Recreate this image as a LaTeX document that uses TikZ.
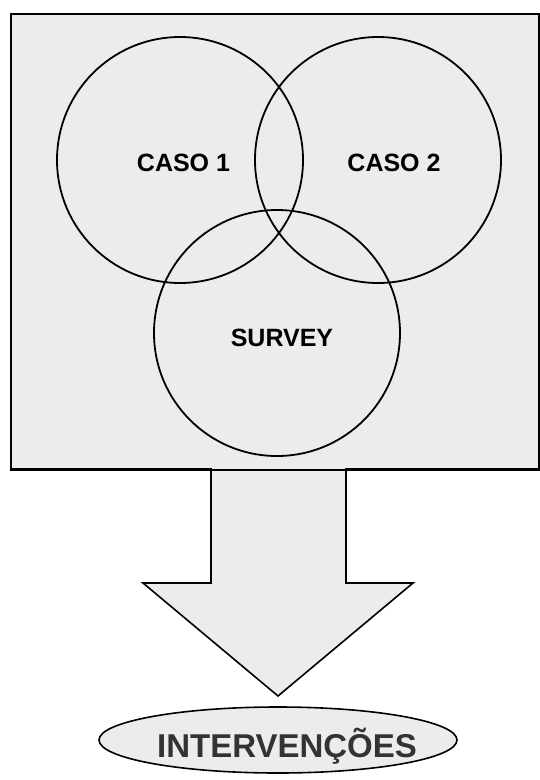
\documentclass[tikz,border=0pt]{standalone}
\usepackage{fontspec}
\setmainfont{Liberation Sans}
\usetikzlibrary{shapes.geometric}
\definecolor{halftone}{HTML}{ECECEC}
\definecolor{darktext}{HTML}{333333}
\begin{document}
\begin{tikzpicture}[x=1pt,y=-1pt,
  circ/.style={circle,draw=black,line width=1.8pt,minimum size=246pt,inner sep=0pt},
  lbl/.style={font=\bfseries\fontsize{25}{30}\selectfont,text=black,inner sep=0pt},
  outline/.style={draw=black,line width=1.6pt,fill=halftone,line join=miter}]
\useasboundingbox (0,0) rectangle (539,780);
% frame
\node[draw=black,line width=2pt,fill=halftone,minimum width=528pt,minimum height=455pt,inner sep=0pt,anchor=north west] (frame) at (9.5,13) {};
% circles
\node[circ] (c1) at (180,160) {};
\node[circ] (c2) at (378,160) {};
\node[circ] (c3) at (277,333) {};
\node[lbl] (t1) at (183.5,163) {CASO 1};
\node[lbl] (t2) at (394,163) {CASO 2};
\node[lbl] (t3) at (282,338) {SURVEY};
% arrow
\path[outline] (211,468) -- (211,583) -- (143,583) -- (278,696) -- (413,583) -- (346,583) -- (346,468);
\draw[line width=2pt] (frame.south west) -- (frame.south east);
% result
\node[ellipse,draw=black,line width=1.6pt,fill=halftone,minimum width=358pt,minimum height=66pt,inner sep=0pt] (res) at (278,740) {};
\node[font=\bfseries\fontsize{33}{40}\selectfont,text=darktext,inner sep=0pt] (rt) at (287,746) {INTERVENÇÕES};
\end{tikzpicture}
\end{document}
